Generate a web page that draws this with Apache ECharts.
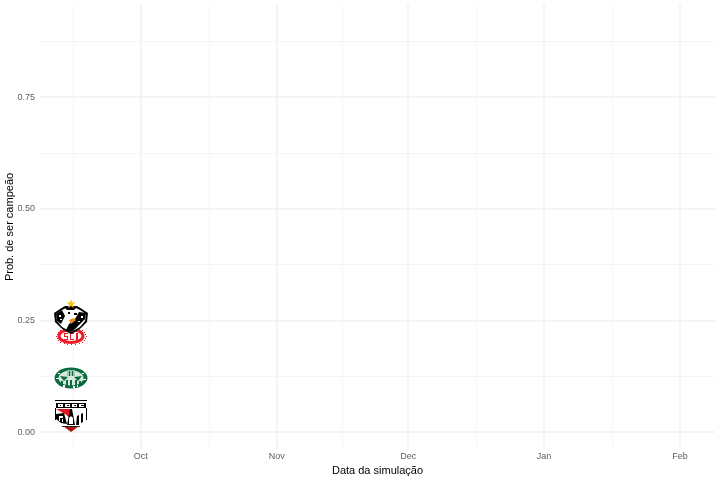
<!DOCTYPE html>
<html><head><meta charset="utf-8">
<style>html,body{margin:0;padding:0;background:#fff}#c{width:720px;height:480px}</style>
<script src="https://cdn.jsdelivr.net/npm/echarts@6/dist/echarts.min.js"></script>
</head><body><div id="c"></div>
<script>
const teams = ['Internacional', 'Palmeiras', 'São Paulo', 'Vasco'];
const simDates = ['2011-09-15', '2011-09-15', '2011-09-15', '2011-09-15'];
const probs = [0.215, 0.120, 0.036, 0.253];
const xMajor = ['2011-10-01', '2011-11-01', '2011-12-01', '2012-01-01', '2012-02-01'];
const xLabels = ['Oct', 'Nov', 'Dec', 'Jan', 'Feb'];
const xMinor = ['2011-09-15T12', '2011-10-16T12', '2011-11-16', '2011-12-16T12', '2012-01-16T12'];
const yMajor = [0, 0.25, 0.5, 0.75];
const yMinor = [0.125, 0.375, 0.625, 0.875];

const ms = d => Date.parse(d.length > 10 ? d + ':00:00Z' : d + 'T00:00:00Z');
const xMin = ms('2011-09-08'), xMax = ms('2012-02-09');
const yMin = -0.038, yMax = 0.956;
const FONT = '"Liberation Sans", Arial, sans-serif';

const poly = (points, fill) => ({ type: 'polygon', shape: { points }, style: { fill } });
const rect = (x, y, width, height, fill) => ({ type: 'rect', shape: { x, y, width, height }, style: { fill } });
const ell = (cx, cy, rx, ry, fill, stroke, lw) => ({ type: 'ellipse', shape: { cx, cy, rx, ry }, style: { fill, stroke, lineWidth: lw || 0 } });
const dotsOnEllipse = (cx, cy, rx, ry, n, fill) => {
  const out = [];
  for (let i = 0; i < n; i++) {
    const a = i / n * Math.PI * 2;
    out.push(rect(Math.round(cx + rx * Math.cos(a)), Math.round(cy + ry * Math.sin(a)), 1, 1, fill));
  }
  return out;
};

const crests = {
  'Vasco': () => {
    const star = [];
    for (let i = 0; i < 10; i++) {
      const r = i % 2 ? 2 : 5, a = -Math.PI / 2 + i * Math.PI / 5;
      star.push([r * Math.cos(a), -15 + r * Math.sin(a)]);
    }
    return [
      poly([[-17, -6], [-11, -10], [-6, -13], [6, -13], [11, -10], [17, -6], [16, 3], [10, 9], [4, 13], [0, 15], [-4, 13], [-10, 9], [-16, 3]], '#000'),
      poly([[-15, -5], [-9, -9], [-5, -11], [5, -11], [9, -9], [15, -5], [14, 2], [9, 8], [0, 13], [-9, 8], [-14, 2]], '#fff'),
      poly([[15, -6], [14, 0], [3, 11], [0, 13], [-5, 11], [-2, 5], [4, 0], [8, -7]], '#000'),
      poly([[-15, -5], [-9, -9], [-6, -3], [-10, 5], [-14, 2]], '#000'),
      rect(-12, -4, 2, 2, '#fff'), rect(-11, 0, 2, 1, '#fff'), rect(10, -3, 2, 2, '#fff'), rect(7, 2, 2, 1, '#fff'),
      poly([[-6, -11], [5, -11], [3, -9], [-4, -9]], '#000'),
      rect(-3, -7, 2, 2, '#000'), rect(3, -6, 3, 2, '#000'),
      poly([[-2, 1], [3, -1], [5, 1], [0, 5]], '#f08a1a'),
      poly(star, '#f6c512')
    ];
  },
  'Internacional': () => [
    ell(0, 0, 12, 6.5, '#fff', '#ee1c25', 3),
    rect(-7, -3, 4, 1, '#ee1c25'), rect(-7, -3, 1, 3, '#ee1c25'), rect(-7, 0, 4, 1, '#ee1c25'), rect(-4, 0, 1, 3, '#ee1c25'), rect(-7, 3, 4, 1, '#ee1c25'),
    rect(-1, -3, 4, 1, '#ee1c25'), rect(-1, -3, 1, 7, '#ee1c25'), rect(-1, 3, 4, 1, '#ee1c25'),
    rect(5, -3, 2, 7, '#ee1c25'),
    ...dotsOnEllipse(0, 0, 15, 8, 24, '#ee1c25')
  ],
  'Palmeiras': () => [
    ell(0, 0, 16.5, 10.5, '#0b6b3f'),
    ell(0, 0, 12.5, 7.5, '#d9e9df'),
    rect(-4, -8, 8, 6, '#9cc6ad'), rect(-2, -7, 1, 5, '#0b6b3f'), rect(1, -7, 1, 5, '#0b6b3f'),
    poly([[-11, -2], [-3, -1], [-7, 3]], '#0b6b3f'),
    poly([[11, -2], [3, -1], [7, 3]], '#0b6b3f'),
    rect(-15, 0, 3, 1, '#fff'), rect(12, 1, 3, 1, '#fff'), rect(-13, -5, 2, 1, '#fff'), rect(11, -5, 2, 1, '#fff'),
    rect(-10, 3, 2, 4, '#0b6b3f'), rect(-5, 2, 2, 6, '#0b6b3f'), rect(-1, 2, 2, 7, '#0b6b3f'), rect(4, 2, 2, 6, '#0b6b3f'), rect(8, 3, 2, 4, '#0b6b3f'),
    rect(-8, 7, 2, 3, '#fff'), rect(2, 8, 2, 2, '#fff'), rect(6, 7, 1, 2, '#fff')
  ],
  'São Paulo': () => [
    rect(-16, -16, 32, 1, '#000'),
    rect(-15, -13, 30, 5, '#000'),
    rect(-13, -12, 5, 3, '#fff'), rect(-6, -12, 5, 3, '#fff'), rect(1, -12, 5, 3, '#fff'), rect(8, -12, 5, 3, '#fff'),
    rect(-11, -11, 1, 1, '#000'), rect(-4, -11, 2, 1, '#000'), rect(3, -11, 2, 1, '#000'), rect(10, -11, 3, 1, '#000'),
    rect(-16, -8, 1, 12, '#000'), rect(15, -8, 1, 12, '#000'),
    poly([[-15, -7], [0, -7], [-1, 2], [-6, -2]], '#e3151b'),
    poly([[-15, -2], [-7, -3], [-4, 8], [-10, 7], [-15, 3]], '#000'),
    rect(-12, 0, 4, 2, '#fff'), rect(-12, 2, 1, 3, '#fff'), rect(-9, 3, 1, 3, '#fff'),
    poly([[-1, -7], [1, -7], [4, 9], [-4, 9]], '#000'),
    poly([[-2, 2], [0, 0], [2, 2], [2, 8], [-2, 8]], '#fff'),
    poly([[5, 9], [6, 0], [8, -1], [8, 9]], '#000'),
    poly([[10, 7], [10, -2], [12, -3], [12, 6]], '#000'),
    poly([[-8, 10], [8, 10], [0, 16]], '#b01212'),
    rect(-9, 10, 18, 1, '#222')
  ]
};

const xAxisBase = { type: 'value', scale: true, min: xMin, max: xMax, axisLine: { show: false } };
const yAxisBase = { type: 'value', min: yMin, max: yMax, axisLine: { show: false } };

const option = {
  animation: false,
  backgroundColor: '#fff',
  textStyle: { fontFamily: FONT },
  grid: { left: 40, right: 5, top: 5, bottom: 31, containLabel: false, outerBoundsMode: 'none' },
  xAxis: [
    { ...xAxisBase, position: 'bottom',
      axisTick: { show: false, customValues: xMinor.map(ms) },
      axisLabel: { show: false, customValues: xMinor.map(ms) },
      splitLine: { show: true, lineStyle: { color: '#f5f5f5', width: 1 } } },
    { ...xAxisBase, position: 'bottom',
      name: 'Data da simulação', nameLocation: 'middle', nameGap: 14,
      nameTextStyle: { fontSize: 11, color: '#000', fontFamily: FONT },
      axisTick: { show: false, customValues: xMajor.map(ms) },
      axisLabel: { show: true, margin: 3, fontSize: 9, color: '#5e5e5e', fontFamily: FONT, hideOverlap: false,
        showMinLabel: true, showMaxLabel: true,
        customValues: xMajor.map(ms),
        formatter: v => { const i = xMajor.map(ms).indexOf(v); return i < 0 ? '' : xLabels[i]; } },
      splitLine: { show: true, lineStyle: { color: '#f0f0f0', width: 1.5 } } }
  ],
  yAxis: [
    { ...yAxisBase,
      axisTick: { show: false, customValues: yMinor },
      axisLabel: { show: false, customValues: yMinor },
      splitLine: { show: true, lineStyle: { color: '#f5f5f5', width: 1 } } },
    { ...yAxisBase, position: 'left',
      name: 'Prob. de ser campeão', nameLocation: 'middle', nameGap: 25, nameRotate: 90,
      nameMoveOverlap: false,
      nameTextStyle: { fontSize: 11, color: '#000', fontFamily: FONT },
      axisTick: { show: false, customValues: yMajor },
      axisLabel: { show: true, margin: 5, fontSize: 9, color: '#5e5e5e', fontFamily: FONT,
        customValues: yMajor, formatter: v => v.toFixed(2) },
      splitLine: { show: true, lineStyle: { color: '#f0f0f0', width: 1.5 } } }
  ],
  series: [{
    type: 'custom',
    xAxisIndex: 1,
    yAxisIndex: 1,
    clip: false,
    encode: { x: 0, y: 1 },
    data: teams.map((t, i) => [ms(simDates[i]), probs[i]]),
    renderItem: (params, api) => {
      const p = api.coord([api.value(0), api.value(1)]);
      const name = teams[params.dataIndex];
      return { type: 'group', x: Math.round(p[0]), y: Math.round(p[1]), children: crests[name]() };
    }
  }]
};
const chart = echarts.init(document.getElementById('c'), null, { renderer: 'canvas' });
chart.setOption(option);
</script></body></html>
